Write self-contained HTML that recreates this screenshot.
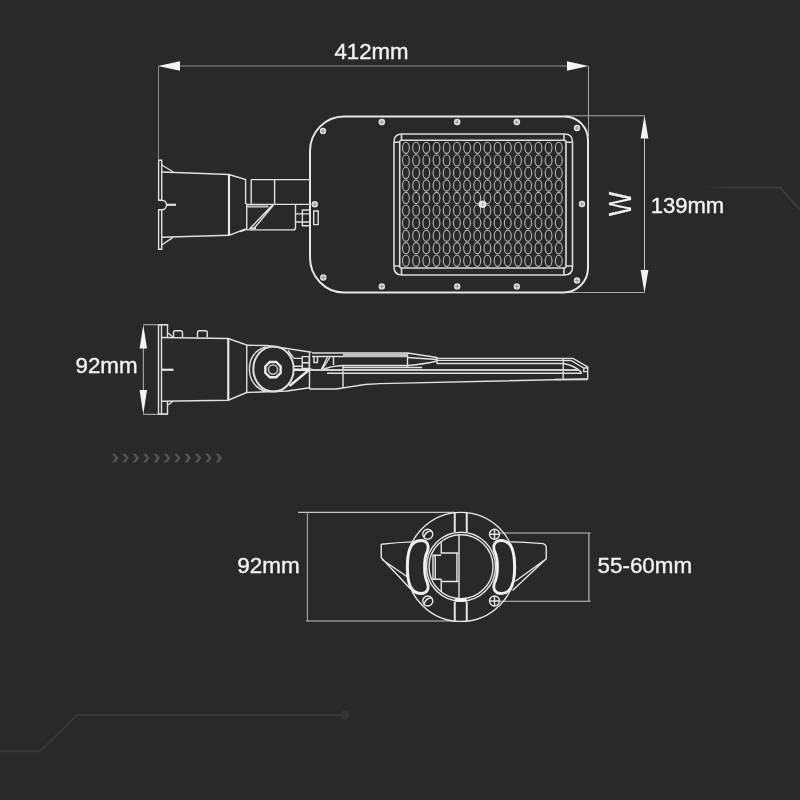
<!DOCTYPE html>
<html><head><meta charset="utf-8">
<style>
html,body{margin:0;padding:0;background:#292929;width:800px;height:800px;overflow:hidden}
svg{display:block;position:absolute;left:0;top:0;will-change:transform}
text{font-family:"Liberation Sans",sans-serif;fill:#f2f2f2;stroke:#f2f2f2;stroke-width:0.4}
</style></head>
<body>
<svg width="800" height="800" viewBox="0 0 800 800">
<defs>
<linearGradient id="fadeR" x1="700" y1="0" x2="800" y2="0" gradientUnits="userSpaceOnUse">
<stop offset="0" stop-color="#393939" stop-opacity="0"/>
<stop offset="0.35" stop-color="#3b3b3b" stop-opacity="1"/>
<stop offset="1" stop-color="#3b3b3b"/>
</linearGradient>
</defs>
<rect width="800" height="800" fill="#292929"/>
<!-- decorative lines -->
<path d="M0 751.5 H40 L77 715 H345" fill="none" stroke="#383838" stroke-width="2"/>
<circle cx="345" cy="715" r="4.5" fill="#353535"/>
<path d="M690 187.5 H780 L800 210" fill="none" stroke="url(#fadeR)" stroke-width="2"/>

<!-- chevrons -->
<g fill="#545454">
<path d="M112.00 453.7 H115.00 L118.50 458.1 L115.00 462.5 H112.00 L115.50 458.1 Z"/>
<path d="M122.35 453.7 H125.35 L128.85 458.1 L125.35 462.5 H122.35 L125.85 458.1 Z"/>
<path d="M132.70 453.7 H135.70 L139.20 458.1 L135.70 462.5 H132.70 L136.20 458.1 Z"/>
<path d="M143.05 453.7 H146.05 L149.55 458.1 L146.05 462.5 H143.05 L146.55 458.1 Z"/>
<path d="M153.40 453.7 H156.40 L159.90 458.1 L156.40 462.5 H153.40 L156.90 458.1 Z"/>
<path d="M163.75 453.7 H166.75 L170.25 458.1 L166.75 462.5 H163.75 L167.25 458.1 Z"/>
<path d="M174.10 453.7 H177.10 L180.60 458.1 L177.10 462.5 H174.10 L177.60 458.1 Z"/>
<path d="M184.45 453.7 H187.45 L190.95 458.1 L187.45 462.5 H184.45 L187.95 458.1 Z"/>
<path d="M194.80 453.7 H197.80 L201.30 458.1 L197.80 462.5 H194.80 L198.30 458.1 Z"/>
<path d="M205.15 453.7 H208.15 L211.65 458.1 L208.15 462.5 H205.15 L208.65 458.1 Z"/>
<path d="M215.50 453.7 H218.50 L222.00 458.1 L218.50 462.5 H215.50 L219.00 458.1 Z"/>
</g>

<!-- DIMENSIONS -->
<g fill="none" stroke="#8c8c8c" stroke-width="1">
<path d="M180 66 H567"/>
<path d="M158.5 66 V160"/>
<path d="M588.5 66 V136" stroke="#a8a8a8"/>
<path d="M565 115.8 H645" stroke="#a8a8a8"/>
<path d="M564 292.5 H645" stroke="#a8a8a8"/>
<path d="M644.5 130 V278" stroke="#c0c0c0"/>
<path d="M143.3 340 V400" stroke="#b8b8b8"/>
<path d="M143 324.75 H168" stroke="#c0c0c0"/>
<path d="M143 414.3 H168" stroke="#c0c0c0"/>
</g>
<g fill="none" stroke="#c4c4c4" stroke-width="1.1">
<path d="M298 512.4 H455"/>
<path d="M306 621 H455"/>
<path d="M307.4 512.4 V621" stroke="#a8a8a8"/>
<path d="M499 533 H590.6"/>
<path d="M499 601.2 H590.6"/>
<path d="M588.9 533 V601.2"/>
</g>
<g fill="#f4f4f4">
<path d="M158 66 L180 61.3 L180 70.7 Z"/>
<path d="M588.5 66 L567 61.3 L567 70.7 Z"/>
<path d="M644.5 115.5 L640.6 138.5 L648.4 138.5 Z"/>
<path d="M644.5 293 L640.6 270 L648.4 270 Z"/>
<path d="M143.3 324.75 L139.6 348.5 L147 348.5 Z"/>
<path d="M143.3 414.6 L139.6 390 L147 390 Z"/>
</g>
<text x="334.5" y="59" font-size="22.5" textLength="74" lengthAdjust="spacingAndGlyphs">412mm</text>
<text x="650.7" y="213" font-size="22.5" textLength="73.5" lengthAdjust="spacingAndGlyphs">139mm</text>
<text transform="translate(630.75,216) rotate(-90) scale(0.8,1)" font-size="32" style="stroke-width:0.15">W</text>
<text x="75.5" y="372.75" font-size="22.5" textLength="62" lengthAdjust="spacingAndGlyphs">92mm</text>
<text x="237.3" y="572.5" font-size="22.5" textLength="62.5" lengthAdjust="spacingAndGlyphs">92mm</text>
<text x="597.6" y="572.5" font-size="22.5" textLength="94.5" lengthAdjust="spacingAndGlyphs">55-60mm</text>

<!-- TOP VIEW LAMP -->
<g fill="none" stroke="#e6e6e6" stroke-width="2">
<path d="M344 116.5 H564.5 A23.5 23.5 0 0 1 588 140 V268 A24.5 24.5 0 0 1 563.5 292.5 H344 A34 35 0 0 1 310 257.5 V151 A34 34.5 0 0 1 344 116.5 Z"/>
</g>
<g fill="none" stroke="#dcdcdc" stroke-width="1.6">
<path d="M402 134 H564.5 Q572.5 134 572.5 142 V267 Q572.5 275 564.5 275 H402 Q394 275 394 267 V142 Q394 134 402 134 Z"/>
<path d="M401.5 140.3 H564 Q566 140.3 566 142.3 V266 Q566 268 564 268 H401.5 Q399.7 268 399.7 266 V142.3 Q399.7 140.3 401.5 140.3 Z"/>
<path d="M401.5 134 V140.3 M394 142.3 H399.7 M564 134 V140.3 M566 142.3 H572.5 M394 266 H399.7 M401.5 268 V275 M566 266 H572.5 M564 268 V275"/>
</g>
<g fill="none" stroke="#b8b8b8" stroke-width="1.1">
<ellipse cx="405.9" cy="147.8" rx="3.4" ry="5.6"/>
<ellipse cx="416.1" cy="147.8" rx="3.4" ry="5.6"/>
<ellipse cx="426.3" cy="147.8" rx="3.4" ry="5.6"/>
<ellipse cx="436.5" cy="147.8" rx="3.4" ry="5.6"/>
<ellipse cx="446.7" cy="147.8" rx="3.4" ry="5.6"/>
<ellipse cx="456.9" cy="147.8" rx="3.4" ry="5.6"/>
<ellipse cx="467.1" cy="147.8" rx="3.4" ry="5.6"/>
<ellipse cx="477.3" cy="147.8" rx="3.4" ry="5.6"/>
<ellipse cx="487.4" cy="147.8" rx="3.4" ry="5.6"/>
<ellipse cx="497.6" cy="147.8" rx="3.4" ry="5.6"/>
<ellipse cx="507.8" cy="147.8" rx="3.4" ry="5.6"/>
<ellipse cx="518.0" cy="147.8" rx="3.4" ry="5.6"/>
<ellipse cx="528.2" cy="147.8" rx="3.4" ry="5.6"/>
<ellipse cx="538.4" cy="147.8" rx="3.4" ry="5.6"/>
<ellipse cx="548.6" cy="147.8" rx="3.4" ry="5.6"/>
<ellipse cx="558.8" cy="147.8" rx="3.4" ry="5.6"/>
<ellipse cx="405.9" cy="160.4" rx="3.4" ry="5.6"/>
<ellipse cx="416.1" cy="160.4" rx="3.4" ry="5.6"/>
<ellipse cx="426.3" cy="160.4" rx="3.4" ry="5.6"/>
<ellipse cx="436.5" cy="160.4" rx="3.4" ry="5.6"/>
<ellipse cx="446.7" cy="160.4" rx="3.4" ry="5.6"/>
<ellipse cx="456.9" cy="160.4" rx="3.4" ry="5.6"/>
<ellipse cx="467.1" cy="160.4" rx="3.4" ry="5.6"/>
<ellipse cx="477.3" cy="160.4" rx="3.4" ry="5.6"/>
<ellipse cx="487.4" cy="160.4" rx="3.4" ry="5.6"/>
<ellipse cx="497.6" cy="160.4" rx="3.4" ry="5.6"/>
<ellipse cx="507.8" cy="160.4" rx="3.4" ry="5.6"/>
<ellipse cx="518.0" cy="160.4" rx="3.4" ry="5.6"/>
<ellipse cx="528.2" cy="160.4" rx="3.4" ry="5.6"/>
<ellipse cx="538.4" cy="160.4" rx="3.4" ry="5.6"/>
<ellipse cx="548.6" cy="160.4" rx="3.4" ry="5.6"/>
<ellipse cx="558.8" cy="160.4" rx="3.4" ry="5.6"/>
<ellipse cx="405.9" cy="172.9" rx="3.4" ry="5.6"/>
<ellipse cx="416.1" cy="172.9" rx="3.4" ry="5.6"/>
<ellipse cx="426.3" cy="172.9" rx="3.4" ry="5.6"/>
<ellipse cx="436.5" cy="172.9" rx="3.4" ry="5.6"/>
<ellipse cx="446.7" cy="172.9" rx="3.4" ry="5.6"/>
<ellipse cx="456.9" cy="172.9" rx="3.4" ry="5.6"/>
<ellipse cx="467.1" cy="172.9" rx="3.4" ry="5.6"/>
<ellipse cx="477.3" cy="172.9" rx="3.4" ry="5.6"/>
<ellipse cx="487.4" cy="172.9" rx="3.4" ry="5.6"/>
<ellipse cx="497.6" cy="172.9" rx="3.4" ry="5.6"/>
<ellipse cx="507.8" cy="172.9" rx="3.4" ry="5.6"/>
<ellipse cx="518.0" cy="172.9" rx="3.4" ry="5.6"/>
<ellipse cx="528.2" cy="172.9" rx="3.4" ry="5.6"/>
<ellipse cx="538.4" cy="172.9" rx="3.4" ry="5.6"/>
<ellipse cx="548.6" cy="172.9" rx="3.4" ry="5.6"/>
<ellipse cx="558.8" cy="172.9" rx="3.4" ry="5.6"/>
<ellipse cx="405.9" cy="185.5" rx="3.4" ry="5.6"/>
<ellipse cx="416.1" cy="185.5" rx="3.4" ry="5.6"/>
<ellipse cx="426.3" cy="185.5" rx="3.4" ry="5.6"/>
<ellipse cx="436.5" cy="185.5" rx="3.4" ry="5.6"/>
<ellipse cx="446.7" cy="185.5" rx="3.4" ry="5.6"/>
<ellipse cx="456.9" cy="185.5" rx="3.4" ry="5.6"/>
<ellipse cx="467.1" cy="185.5" rx="3.4" ry="5.6"/>
<ellipse cx="477.3" cy="185.5" rx="3.4" ry="5.6"/>
<ellipse cx="487.4" cy="185.5" rx="3.4" ry="5.6"/>
<ellipse cx="497.6" cy="185.5" rx="3.4" ry="5.6"/>
<ellipse cx="507.8" cy="185.5" rx="3.4" ry="5.6"/>
<ellipse cx="518.0" cy="185.5" rx="3.4" ry="5.6"/>
<ellipse cx="528.2" cy="185.5" rx="3.4" ry="5.6"/>
<ellipse cx="538.4" cy="185.5" rx="3.4" ry="5.6"/>
<ellipse cx="548.6" cy="185.5" rx="3.4" ry="5.6"/>
<ellipse cx="558.8" cy="185.5" rx="3.4" ry="5.6"/>
<ellipse cx="405.9" cy="198.0" rx="3.4" ry="5.6"/>
<ellipse cx="416.1" cy="198.0" rx="3.4" ry="5.6"/>
<ellipse cx="426.3" cy="198.0" rx="3.4" ry="5.6"/>
<ellipse cx="436.5" cy="198.0" rx="3.4" ry="5.6"/>
<ellipse cx="446.7" cy="198.0" rx="3.4" ry="5.6"/>
<ellipse cx="456.9" cy="198.0" rx="3.4" ry="5.6"/>
<ellipse cx="467.1" cy="198.0" rx="3.4" ry="5.6"/>
<ellipse cx="477.3" cy="198.0" rx="3.4" ry="5.6"/>
<ellipse cx="487.4" cy="198.0" rx="3.4" ry="5.6"/>
<ellipse cx="497.6" cy="198.0" rx="3.4" ry="5.6"/>
<ellipse cx="507.8" cy="198.0" rx="3.4" ry="5.6"/>
<ellipse cx="518.0" cy="198.0" rx="3.4" ry="5.6"/>
<ellipse cx="528.2" cy="198.0" rx="3.4" ry="5.6"/>
<ellipse cx="538.4" cy="198.0" rx="3.4" ry="5.6"/>
<ellipse cx="548.6" cy="198.0" rx="3.4" ry="5.6"/>
<ellipse cx="558.8" cy="198.0" rx="3.4" ry="5.6"/>
<ellipse cx="405.9" cy="210.6" rx="3.4" ry="5.6"/>
<ellipse cx="416.1" cy="210.6" rx="3.4" ry="5.6"/>
<ellipse cx="426.3" cy="210.6" rx="3.4" ry="5.6"/>
<ellipse cx="436.5" cy="210.6" rx="3.4" ry="5.6"/>
<ellipse cx="446.7" cy="210.6" rx="3.4" ry="5.6"/>
<ellipse cx="456.9" cy="210.6" rx="3.4" ry="5.6"/>
<ellipse cx="467.1" cy="210.6" rx="3.4" ry="5.6"/>
<ellipse cx="477.3" cy="210.6" rx="3.4" ry="5.6"/>
<ellipse cx="487.4" cy="210.6" rx="3.4" ry="5.6"/>
<ellipse cx="497.6" cy="210.6" rx="3.4" ry="5.6"/>
<ellipse cx="507.8" cy="210.6" rx="3.4" ry="5.6"/>
<ellipse cx="518.0" cy="210.6" rx="3.4" ry="5.6"/>
<ellipse cx="528.2" cy="210.6" rx="3.4" ry="5.6"/>
<ellipse cx="538.4" cy="210.6" rx="3.4" ry="5.6"/>
<ellipse cx="548.6" cy="210.6" rx="3.4" ry="5.6"/>
<ellipse cx="558.8" cy="210.6" rx="3.4" ry="5.6"/>
<ellipse cx="405.9" cy="223.1" rx="3.4" ry="5.6"/>
<ellipse cx="416.1" cy="223.1" rx="3.4" ry="5.6"/>
<ellipse cx="426.3" cy="223.1" rx="3.4" ry="5.6"/>
<ellipse cx="436.5" cy="223.1" rx="3.4" ry="5.6"/>
<ellipse cx="446.7" cy="223.1" rx="3.4" ry="5.6"/>
<ellipse cx="456.9" cy="223.1" rx="3.4" ry="5.6"/>
<ellipse cx="467.1" cy="223.1" rx="3.4" ry="5.6"/>
<ellipse cx="477.3" cy="223.1" rx="3.4" ry="5.6"/>
<ellipse cx="487.4" cy="223.1" rx="3.4" ry="5.6"/>
<ellipse cx="497.6" cy="223.1" rx="3.4" ry="5.6"/>
<ellipse cx="507.8" cy="223.1" rx="3.4" ry="5.6"/>
<ellipse cx="518.0" cy="223.1" rx="3.4" ry="5.6"/>
<ellipse cx="528.2" cy="223.1" rx="3.4" ry="5.6"/>
<ellipse cx="538.4" cy="223.1" rx="3.4" ry="5.6"/>
<ellipse cx="548.6" cy="223.1" rx="3.4" ry="5.6"/>
<ellipse cx="558.8" cy="223.1" rx="3.4" ry="5.6"/>
<ellipse cx="405.9" cy="235.7" rx="3.4" ry="5.6"/>
<ellipse cx="416.1" cy="235.7" rx="3.4" ry="5.6"/>
<ellipse cx="426.3" cy="235.7" rx="3.4" ry="5.6"/>
<ellipse cx="436.5" cy="235.7" rx="3.4" ry="5.6"/>
<ellipse cx="446.7" cy="235.7" rx="3.4" ry="5.6"/>
<ellipse cx="456.9" cy="235.7" rx="3.4" ry="5.6"/>
<ellipse cx="467.1" cy="235.7" rx="3.4" ry="5.6"/>
<ellipse cx="477.3" cy="235.7" rx="3.4" ry="5.6"/>
<ellipse cx="487.4" cy="235.7" rx="3.4" ry="5.6"/>
<ellipse cx="497.6" cy="235.7" rx="3.4" ry="5.6"/>
<ellipse cx="507.8" cy="235.7" rx="3.4" ry="5.6"/>
<ellipse cx="518.0" cy="235.7" rx="3.4" ry="5.6"/>
<ellipse cx="528.2" cy="235.7" rx="3.4" ry="5.6"/>
<ellipse cx="538.4" cy="235.7" rx="3.4" ry="5.6"/>
<ellipse cx="548.6" cy="235.7" rx="3.4" ry="5.6"/>
<ellipse cx="558.8" cy="235.7" rx="3.4" ry="5.6"/>
<ellipse cx="405.9" cy="248.2" rx="3.4" ry="5.6"/>
<ellipse cx="416.1" cy="248.2" rx="3.4" ry="5.6"/>
<ellipse cx="426.3" cy="248.2" rx="3.4" ry="5.6"/>
<ellipse cx="436.5" cy="248.2" rx="3.4" ry="5.6"/>
<ellipse cx="446.7" cy="248.2" rx="3.4" ry="5.6"/>
<ellipse cx="456.9" cy="248.2" rx="3.4" ry="5.6"/>
<ellipse cx="467.1" cy="248.2" rx="3.4" ry="5.6"/>
<ellipse cx="477.3" cy="248.2" rx="3.4" ry="5.6"/>
<ellipse cx="487.4" cy="248.2" rx="3.4" ry="5.6"/>
<ellipse cx="497.6" cy="248.2" rx="3.4" ry="5.6"/>
<ellipse cx="507.8" cy="248.2" rx="3.4" ry="5.6"/>
<ellipse cx="518.0" cy="248.2" rx="3.4" ry="5.6"/>
<ellipse cx="528.2" cy="248.2" rx="3.4" ry="5.6"/>
<ellipse cx="538.4" cy="248.2" rx="3.4" ry="5.6"/>
<ellipse cx="548.6" cy="248.2" rx="3.4" ry="5.6"/>
<ellipse cx="558.8" cy="248.2" rx="3.4" ry="5.6"/>
<ellipse cx="405.9" cy="260.8" rx="3.4" ry="5.6"/>
<ellipse cx="416.1" cy="260.8" rx="3.4" ry="5.6"/>
<ellipse cx="426.3" cy="260.8" rx="3.4" ry="5.6"/>
<ellipse cx="436.5" cy="260.8" rx="3.4" ry="5.6"/>
<ellipse cx="446.7" cy="260.8" rx="3.4" ry="5.6"/>
<ellipse cx="456.9" cy="260.8" rx="3.4" ry="5.6"/>
<ellipse cx="467.1" cy="260.8" rx="3.4" ry="5.6"/>
<ellipse cx="477.3" cy="260.8" rx="3.4" ry="5.6"/>
<ellipse cx="487.4" cy="260.8" rx="3.4" ry="5.6"/>
<ellipse cx="497.6" cy="260.8" rx="3.4" ry="5.6"/>
<ellipse cx="507.8" cy="260.8" rx="3.4" ry="5.6"/>
<ellipse cx="518.0" cy="260.8" rx="3.4" ry="5.6"/>
<ellipse cx="528.2" cy="260.8" rx="3.4" ry="5.6"/>
<ellipse cx="538.4" cy="260.8" rx="3.4" ry="5.6"/>
<ellipse cx="548.6" cy="260.8" rx="3.4" ry="5.6"/>
<ellipse cx="558.8" cy="260.8" rx="3.4" ry="5.6"/>
</g>
<circle cx="482.5" cy="204.25" r="3.8" fill="#e4e4e4"/>
<g fill="#dedede">
<circle cx="323" cy="131" r="3.2"/>
<circle cx="381.8" cy="122.1" r="3.3"/>
<circle cx="457.2" cy="122.1" r="3.3"/>
<circle cx="516.8" cy="122.1" r="3.3"/>
<circle cx="577" cy="128" r="3.2"/>
<circle cx="582" cy="204" r="3.2"/>
<circle cx="577" cy="280.5" r="3.2"/>
<circle cx="381.8" cy="286.4" r="3.2"/>
<circle cx="457.2" cy="286.4" r="3.2"/>
<circle cx="516.8" cy="286.4" r="3.2"/>
<circle cx="323.3" cy="277.5" r="3.2"/>
<circle cx="314.8" cy="204.3" r="3.2"/>
</g>
<g fill="none" stroke="#7a7a7a" stroke-width="0.7">
<path d="M323 129 V133 M321 131 H325 M381.8 120.1 V124.1 M379.8 122.1 H383.8 M457.2 120.1 V124.1 M455.2 122.1 H459.2 M516.8 120.1 V124.1 M514.8 122.1 H518.8 M577 126 V130 M575 128 H579 M582 202 V206 M580 204 H584 M577 278.5 V282.5 M575 280.5 H579 M381.8 284.4 V288.4 M379.8 286.4 H383.8 M457.2 284.4 V288.4 M455.2 286.4 H459.2 M516.8 284.4 V288.4 M514.8 286.4 H518.8 M323.3 275.5 V279.5 M321.3 277.5 H325.3 M314.8 202.3 V206.3 M312.8 204.3 H316.8 M482.6 202.5 V206"/>
</g>

<!-- TOP VIEW MOUNT -->
<g fill="none" stroke="#e0e0e0" stroke-width="1.4">
<path d="M158.6 160.3 H161.7 V200.2 M158.6 160.3 V200.2 H161.7 A4.8 4.8 0 0 1 161.7 209.8 H158.6 V249.3 H161.7 V209.8"/>
<path d="M166.5 204.8 H176" stroke-width="2.2"/>
<path d="M161.7 165 L173.4 172 M161.7 245 L173 237.3"/>
<path d="M161.7 172 L229 174.5 L245.6 179.6 V204 M245.6 229 L229 235.3 L161.7 237.3"/>
<path d="M251.2 179.6 H310 M251.2 179.6 V203.7 M274.6 179.6 V203.7"/>
<path d="M246.75 203.5 V229 Q246 230 240 231.5 M246.75 204.4 H310 M246.75 229.9 H293 Q295.5 229.9 295.5 227.4 V204.4"/>
<path d="M272.5 205 L249.5 229 M273.5 205 L253 229.5 M250 228.3 H256"/>
<path d="M302.4 210 H310 V225.7 H302.4 Z M296 213.9 H310 M296 222 H310"/>
<path d="M313.7 211 H318.2 V224.6 H313.7 Z"/>
</g>
<path d="M247 206.5 H268.5" stroke="#bbb" stroke-width="2.2"/>
<path d="M229 174.5 V235.3" stroke="#e8e8e8" stroke-width="2.2"/>

<!-- SIDE VIEW -->
<g fill="none" stroke="#e0e0e0" stroke-width="1.4">
<path d="M158.5 324.75 H167.5 V337.5 M158.5 324.75 V414 H167.5 V401.25 M161.5 324.75 V414"/>
<path d="M168.2 333 L172.7 337 M168.2 405 L173 401.3"/>
<path d="M161.5 337.5 L228.25 338.5 L246.75 345 V392.5 L228.25 400.2 L161.5 401.25"/>
<path d="M173.5 337.5 V332.5 Q173.5 330.75 175.3 330.75 H180.7 Q182.5 330.75 182.5 332.5 V337.5"/>
<path d="M197.5 337.5 V332.5 Q197.5 330.75 199.3 330.75 H205.4 Q207.25 330.75 207.25 332.5 V337.5"/>
<path d="M246.75 345.25 L267 345.5 L311.5 352.25"/>
<path d="M246.75 392.5 L287 391 L309.5 387.7 M309.5 389 H336 L365 384.5 L380 383.6 L587 379"/>
<ellipse cx="273.5" cy="369.1" rx="20.2" ry="22.5" stroke-width="2"/>
<path d="M266 346.6 Q249.4 352 249.4 369.1 Q249.4 386 266 391.6"/>
<circle cx="273" cy="369.6" r="4.6" stroke="#bbb" stroke-width="1.6"/>
<path d="M288 350.5 L294 358.4 M294 358.4 H302.3 M294 366.25 H302.3 M302.3 356.6 H309.3 V368.4 H302.3 Z M302.3 362.75 H309.3"/>
<path d="M309.5 352.25 V389"/>
<path d="M312 353 H407.5 L437 357.5 M312 356.5 H343 M314 356.5 V362.5 H317.5 V356.5"/>
<path d="M330 357 L322 370 M327.5 357 L320.5 371 M322 370 Q330 366 343 365.5 M333.5 356 V365 M343 365.5 V388"/>
<path d="M343 365.5 H407.5 Q425 364 437 361 M343 367.5 H422 M327 373.3 H582 M407.5 357.5 L437 359.5"/>
<path d="M407.5 353 V367.5 M437 357 V364 M437 360.4 H563 M437 363.5 H563"/>
<path d="M437 358.4 H573 L587.7 367 V379.3 M563.2 358.4 V379.5 M563.2 360.5 H571 L583.75 368 M563.2 363.5 Q575 365.5 581.5 372.5 M583.75 368 H587.7 V371.65 H583.75 Z M554.5 379.5 H587.7"/>
</g>
<path d="M280.67 372.78 L276.18 377.27 L269.82 377.27 L265.33 372.78 L265.33 366.42 L269.82 361.93 L276.18 361.93 L280.67 366.42 Z" fill="none" stroke="#ececec" stroke-width="2.4"/>
<path d="M293.5 369.75 H309.3 L289.5 386" fill="none" stroke="#ececec" stroke-width="2.4"/>
<path d="M309.5 370 H579" stroke="#d0d0d0" stroke-width="2"/>
<path d="M343 355.2 H407.5" stroke="#c4c4c4" stroke-width="4"/>
<path d="M228.25 338.5 V400.2" stroke="#e8e8e8" stroke-width="2.2"/>
<path d="M161.5 369.75 H173.5" stroke="#e8e8e8" stroke-width="2.2"/>

<!-- FRONT VIEW -->
<g fill="none" stroke="#e6e6e6" stroke-width="1.4">
<circle cx="461" cy="566.9" r="54.5"/>
<circle cx="461" cy="566.7" r="34.5"/>
<circle cx="461" cy="566.7" r="32"/>
<path d="M454.75 512.5 V532 M466.75 512.5 V532 M454.75 602 V621.3 M466.75 602 V621.3" stroke-width="2"/>
<path d="M455 600.2 H466.5" stroke="#f4f4f4" stroke-width="3.2"/>
<path d="M459 534 V600 M456.9 553 V581.5"/>
<path d="M441.25 541.5 V553 H458.5 M432.25 555.25 H441.25 M433 555.25 V579.25 M435.25 555.25 V579.25 M432.25 579.25 H441.25 M441.25 581.5 H458.5 M441.25 579.25 V592"/>
<path d="M381.25 544.2 Q398 542.5 412.2 541.9 M381.25 544.2 V557.8 L410.3 588.75 M382 559.5 L407.5 577"/>
<path d="M510.6 541.9 Q530 542.5 543 543.6 Q546.25 544.5 546.25 548 V558.75 L512.5 590.6 M545 559.7 L515.3 581.25"/>
<circle cx="427.75" cy="534.25" r="5"/>
<circle cx="494.5" cy="534.25" r="5"/>
<circle cx="427.75" cy="601" r="5"/>
<circle cx="494.5" cy="601" r="5"/>
<path d="M494.5 529.25 V539.25 M489.5 534.25 H499.5 M494.5 596 V606 M489.5 601 H499.5"/>
<path d="M424 537 Q426 531 431 531 M424 604 Q426 598 431 598"/>
</g>
<g fill="none" stroke="#f0f0f0" stroke-width="2.8">
<path d="M421 540.5 C410 540.5 407.5 552 407.5 567 C407.5 582 410 593.5 421 593.5 C427 593.5 429.5 589 427.5 583 C423.5 575 423.5 559 427.5 551 C429.5 545 427 540.5 421 540.5 Z"/>
<path d="M 501 540.5 C 512 540.5 514.5 552 514.5 567 C 514.5 582 512 593.5 501 593.5 C 495 593.5 492.5 589 494.5 583 C 498.5 575 498.5 559 494.5 551 C 492.5 545 495 540.5 501 540.5 Z"/>
</g>
</svg>
</body></html>
